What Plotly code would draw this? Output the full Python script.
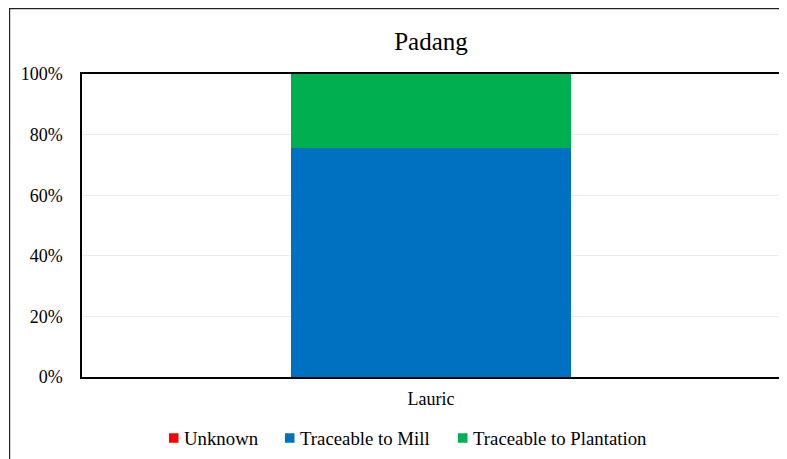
import plotly.graph_objects as go

categories = ["Lauric"]
unknown = [0.0]
mill = [75.6]
plantation = [24.4]
series_names = ["Unknown", "Traceable to Mill", "Traceable to Plantation"]
colors = ["#FF0000", "#0070C0", "#00B050"]
y_ticks = [0, 20, 40, 60, 80, 100]
y_tick_labels = ["0%", "20%", "40%", "60%", "80%", "100%"]

# page offset (browser body margin) compensation
OFF = 7
W, H = 787 - 8, 459 - 8
L, T = 81 - OFF, 73 - OFF
R = W - (779 - OFF)
B = H - (376 - OFF)
pw, ph = W - L - R, H - T - B

fig = go.Figure()
for name, vals, col in zip(series_names, [unknown, mill, plantation], colors):
    fig.add_trace(go.Bar(x=categories, y=vals, name=name, marker=dict(color=col, line=dict(width=0)),
                         width=0.4, showlegend=False))

def px_x(p):
    return (p - OFF - L) / pw

def px_y(p):
    return (H - B - (p - OFF)) / ph

font = "Liberation Serif"

# custom legend (square swatch + text), positions in reference pixels
legend_sq_left = [168, 284, 457]
legend_y = 437
shapes = []
annotations = []
for name, col, x0 in zip(series_names, colors, legend_sq_left):
    shapes.append(dict(type="rect", xref="paper", yref="paper",
                       x0=px_x(x0), x1=px_x(x0 + 9.5), y0=px_y(legend_y - 4.75), y1=px_y(legend_y + 4.75),
                       fillcolor=col, line=dict(width=0)))
    annotations.append(dict(text=name, xref="paper", yref="paper", x=px_x(x0 + 12.5), y=px_y(legend_y + 0.5),
                            xanchor="left", yanchor="middle", showarrow=False,
                            font=dict(family=font, size=18.8, color="#000000")))

shapes += [
    dict(type="line", xref="paper", yref="paper", x0=px_x(8), x1=px_x(783), y0=px_y(7.6), y1=px_y(7.6),
         line=dict(color="#222222", width=1.2)),
    dict(type="line", xref="paper", yref="paper", x0=px_x(8.6), x1=px_x(8.6), y0=px_y(7.6), y1=px_y(480),
         line=dict(color="#222222", width=1.2)),
]

fig.update_layout(
    width=W, height=H,
    margin=dict(l=L, r=R, t=T, b=B, autoexpand=False),
    barmode="stack",
    paper_bgcolor="white", plot_bgcolor="white",
    font=dict(family=font, size=18, color="#000000"),
    title=dict(text="Padang", x=(L + pw / 2) / W, xanchor="center", y=1 - (40 - OFF) / H, yanchor="middle",
               font=dict(family=font, size=25, color="#000000")),
    xaxis=dict(showline=True, linecolor="#000000", linewidth=1.5, mirror=True, ticks="",
               tickfont=dict(family=font, size=18), ticklabelstandoff=5),
    yaxis=dict(range=[0, 100], tickvals=y_ticks, ticktext=y_tick_labels, showgrid=True,
               gridcolor="#EBEBEB", gridwidth=1, showline=True, linecolor="#000000", linewidth=1.5,
               mirror=True, ticks="", tickfont=dict(family=font, size=18), zeroline=False,
               ticklabelstandoff=14),
    showlegend=False,
    shapes=shapes,
    annotations=annotations,
)
fig.write_html("out.html")
